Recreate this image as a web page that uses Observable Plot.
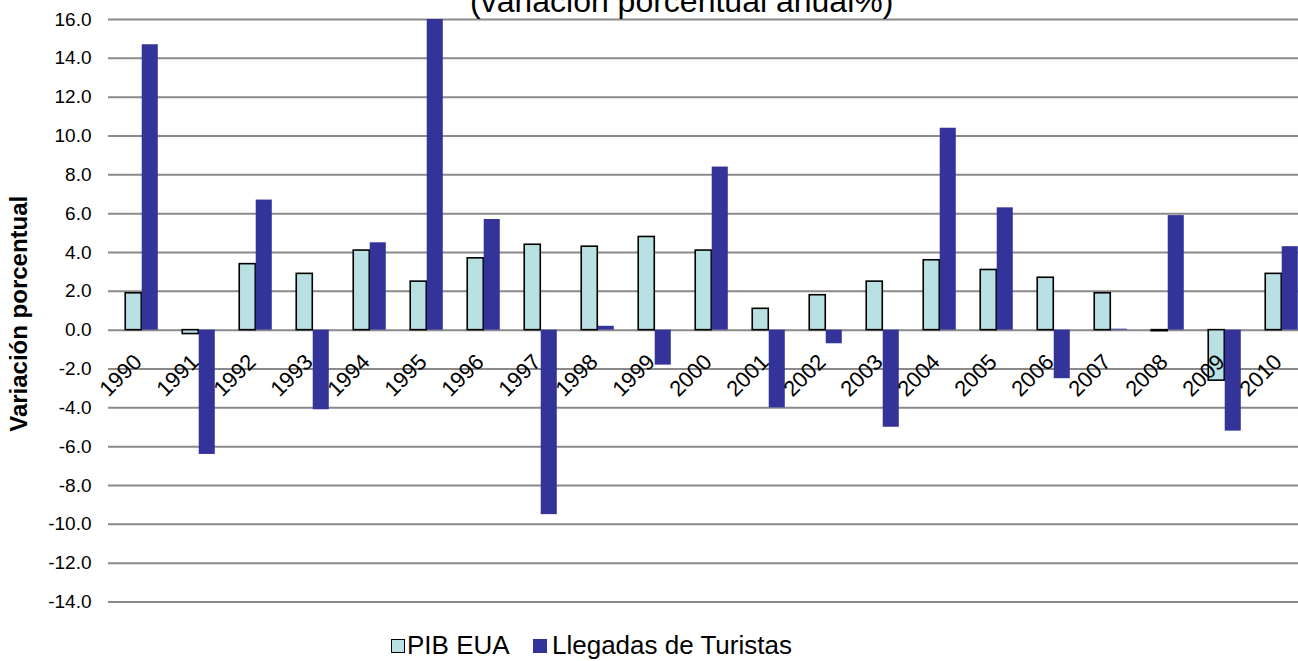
<!DOCTYPE html>
<html>
<head>
<meta charset="utf-8">
<script src="https://cdn.jsdelivr.net/npm/d3@7"></script>
<script src="https://cdn.jsdelivr.net/npm/@observablehq/plot@0.6"></script>
<style>
  html, body { margin: 0; padding: 0; background: #fff; overflow: hidden; }
  body { width: 1298px; height: 661px; position: relative; font-family: Arial, "Liberation Sans", sans-serif; }
  #chart { position: absolute; left: 0; top: 0; }
  #chart svg { overflow: hidden; }
  #title { position: absolute; top: -15px; left: 470px; font-size: 32px; line-height: 32px; color: #000; white-space: nowrap; }
  #legend { position: absolute; left: 0; top: 0; width: 1298px; height: 661px; pointer-events: none; }
  .lt { position: absolute; top: 632px; font-size: 26px; line-height: 26px; color: #000; white-space: nowrap; }
  .sw { position: absolute; top: 639px; width: 14px; height: 14px; box-sizing: border-box; }
</style>
</head>
<body>
<div id="chart"></div>
<div id="title">(variación porcentual anual%)</div>
<div id="legend"></div>
<script>
// ---- data ----
const years = ["1990","1991","1992","1993","1994","1995","1996","1997","1998","1999","2000",
               "2001","2002","2003","2004","2005","2006","2007","2008","2009","2010"];
const pibEUA = [1.9, -0.2, 3.4, 2.9, 4.1, 2.5, 3.7, 4.4, 4.3, 4.8, 4.1,
                1.1, 1.8, 2.5, 3.6, 3.1, 2.7, 1.9, -0.05, -2.6, 2.9];
const llegadasTuristas = [14.7, -6.4, 6.7, -4.1, 4.5, 16.0, 5.7, -9.5, 0.2, -1.8, 8.4,
                          -4.0, -0.7, -5.0, 10.4, 6.3, -2.5, 0.05, 5.9, -5.2, 4.3];
const seriesNames = ["PIB EUA", "Llegadas de Turistas"];
const yTicks = [-14, -12, -10, -8, -6, -4, -2, 0, 2, 4, 6, 8, 10, 12, 14, 16];
const yLabel = "Variación porcentual";

// ---- styles ----
const colors = {"PIB EUA": "#b9e0e3", "Llegadas de Turistas": "#333399"};
const barW = 16.5;
const xRange = [107.8, 1314.2];
const step = (xRange[1] - xRange[0]) / years.length;
const half = step / 2;

const pibRows = years.map((y, i) => ({year: y, v: pibEUA[i]}));
const turRows = years.map((y, i) => ({year: y, v: llegadasTuristas[i]}));

const chart = Plot.plot({
  width: 1298,
  height: 625,
  marginTop: 19,
  marginBottom: 23.5,
  marginLeft: 108,
  marginRight: 0,
  style: {fontFamily: 'Arial, "Liberation Sans", sans-serif', background: "#fff", color: "#000"},
  x: {type: "band", domain: years, range: xRange, padding: 0, axis: null},
  y: {domain: [-14, 16], axis: null},
  marks: [
    Plot.ruleY(yTicks, {stroke: "#8a8a8a", strokeWidth: 2}),
    Plot.axisY({ticks: yTicks, tickSize: 0, tickPadding: 17, fontSize: 19,
                tickFormat: d => d.toFixed(1), label: null}),
    Plot.barY(pibRows, {x: "year", y: "v", fill: colors["PIB EUA"], stroke: "#000", strokeWidth: 1.6,
                        insetLeft: half - barW, insetRight: half}),
    Plot.barY(turRows, {x: "year", y: "v", fill: colors["Llegadas de Turistas"],
                        insetLeft: half, insetRight: half - barW}),
    Plot.text(years, {x: d => d, y: () => 0, text: d => d, rotate: -45, textAnchor: "end",
                      lineAnchor: "top", dx: -10, dy: 22, fontSize: 22, fill: "#000"}),
    Plot.text([yLabel], {frameAnchor: "left", textAnchor: "middle", dx: -89, dy: 3, rotate: -90,
                         fontWeight: "bold", fontSize: 24, fill: "#000"})
  ]
});
document.getElementById("chart").appendChild(chart);

// ---- legend ----
const legend = document.getElementById("legend");
const legendX = {"PIB EUA": [391, 407], "Llegadas de Turistas": [533, 552]};
seriesNames.forEach(name => {
  const sw = document.createElement("div");
  sw.className = "sw";
  sw.style.left = legendX[name][0] + "px";
  sw.style.background = colors[name];
  sw.style.border = name === "PIB EUA" ? "1.5px solid #000" : "none";
  legend.appendChild(sw);
  const t = document.createElement("div");
  t.className = "lt";
  t.style.left = legendX[name][1] + "px";
  t.textContent = name;
  legend.appendChild(t);
});
</script>
</body>
</html>
